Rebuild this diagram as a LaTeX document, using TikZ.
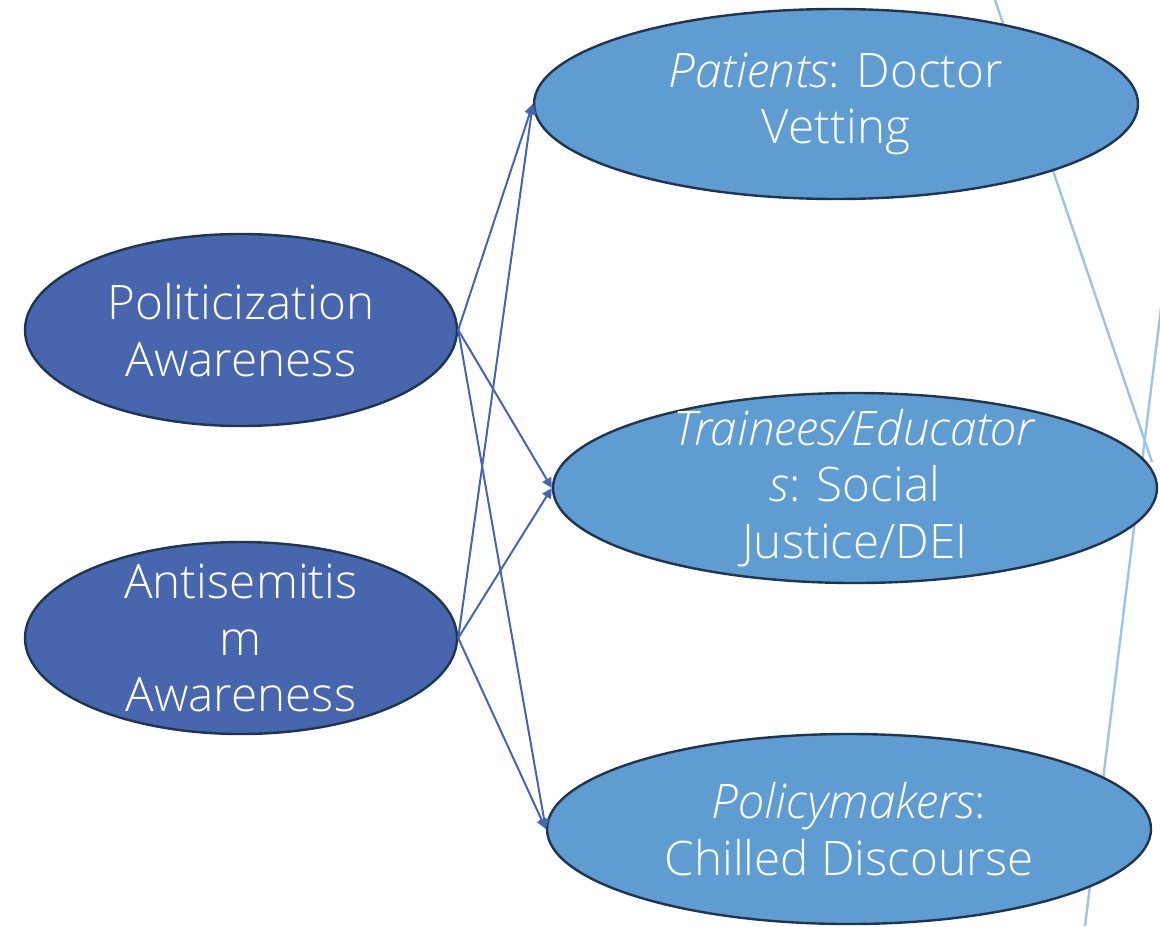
\documentclass[tikz,border=0pt]{standalone}
\usepackage{fontspec}
\IfFontExistsTF{Open Sans Light}{%
  \setmainfont{Open Sans}[UprightFont={* Light},ItalicFont={* Light Italic}]}{%
  \setmainfont{Open Sans}}
\usepackage{tikz}
\usetikzlibrary{arrows.meta,shapes.geometric}

\definecolor{darkfill}{HTML}{4866AE}
\definecolor{lightfill}{HTML}{5F9CD1}
\definecolor{rim}{HTML}{1F3550}
\definecolor{link}{HTML}{4565B0}
\definecolor{faint}{HTML}{9DC3E6}

\begin{document}
\begin{tikzpicture}[x=0.5pt,y=-0.5pt,
    cause/.style={ellipse,draw=rim,line width=1.2pt,fill=darkfill,text=white,
      minimum width=216pt,minimum height=96pt,inner xsep=0pt,inner ysep=-22pt,
      align=center,font=\fontsize{23.8}{28.3}\selectfont},
    effect/.style={cause,fill=lightfill,minimum width=302pt,minimum height=95pt},
    link/.style={draw=link,line width=1pt,-{Triangle[length=5pt,width=5pt]}},
    faintline/.style={draw=faint,line width=1.2pt}]
\useasboundingbox (0,0) rectangle (1160,926);

% pale lines running behind the right column
\coordinate (f1) at (995,0);
\coordinate (f2) at (1152,462);
\coordinate (f3) at (1162,300);
\coordinate (f4) at (1085,926);
\draw[faintline] (f1) -- (f2);
\draw[faintline] (f3) -- (f4);

\node[cause] (pol) at (241,330) {Politicization\\Awareness};
\node[cause] (anti) at (241,638) {Antisemitis\\m\\Awareness};

\node[effect] (pat) at (836,104) {\textit{Patients}: Doctor\\Vetting};
\node[effect] (trn) at (855,488) {\textit{Trainees/Educator}\\\textit{s}: Social\\Justice/DEI};
\node[effect] (pol2) at (849,829) {\textit{Policymakers}:\\Chilled Discourse};

\foreach \src in {pol,anti}
  \foreach \dst in {pat,trn,pol2}
    \draw[link] (\src.east) -- (\dst.west);
\end{tikzpicture}
\end{document}
